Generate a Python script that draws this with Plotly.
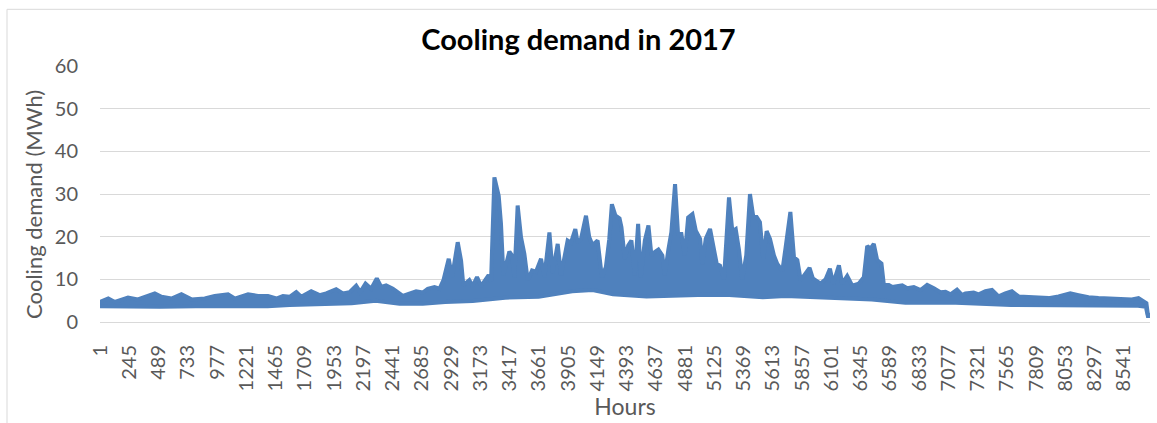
import plotly.graph_objects as go

# Upper envelope of the hourly cooling demand (daily peaks and the valleys between them)
peak_hours = [
    1, 70, 125, 235, 317, 458, 514, 597, 680, 764, 875, 958, 1069, 1125, 1236, 1319, 1402, 1472, 1527,
    1583, 1638, 1680, 1763, 1833, 1888, 1971, 2027, 2083, 2138, 2172, 2216, 2263, 2310, 2347, 2388,
    2444, 2527, 2583, 2638, 2694, 2735, 2791, 2833, 2866,
    2910, 2938, 2985, 3013, 3032, 3082, 3110, 3146, 3180, 3243, 3263, 3291, 3327, 3346, 3366, 3416,
    3438, 3458, 3485, 3513, 3541, 3569, 3605, 3638, 3680, 3708, 3750, 3777, 3819, 3847, 3902, 3930,
    3966, 3985, 4013, 4055, 4082, 4110, 4152, 4188, 4221, 4249, 4271, 4300, 4335, 4351, 4379, 4407,
    4434, 4462, 4490, 4512, 4546, 4576, 4601, 4629, 4659, 4692, 4712, 4742, 4767, 4798, 4823, 4851,
    4879, 4907, 4943, 4971, 5007, 5026, 5054, 5090, 5118, 5146, 5173, 5206, 5248, 5276, 5304, 5331,
    5359, 5392, 5423, 5451, 5479, 5506, 5534, 5562, 5590, 5623, 5651, 5693, 5720, 5760, 5790, 5818,
    5846, 5873, 5920, 5948, 6012, 6054, 6090, 6117, 6165, 6192, 6234, 6276, 6331, 6373, 6401, 6429,
    6456, 6484, 6520, 6540, 6581, 6610, 6637, 6693, 6735, 6790, 6846, 6901, 6957, 7012, 7054, 7096,
    7150, 7193, 7220, 7289, 7331, 7387, 7442, 7497, 7553, 7608, 7664, 7747, 7830, 7914, 7997, 8095,
    8164, 8247, 8330, 8441, 8525, 8608, 8664, 8705, 8730, 8742, 8760,
]
peak_demand = [
    4.7, 5.5, 4.7, 5.7, 5.3, 6.7, 5.9, 5.5, 6.5, 5.3, 5.5, 6.1, 6.5, 5.5, 6.5, 6.1, 6.1, 5.5, 6.1,
    5.9, 7.0, 5.9, 7.2, 6.3, 6.7, 7.7, 6.7, 7.0, 8.5, 7.0, 9.0, 7.8, 10.2, 8.2, 8.6,
    7.8, 6.1, 6.7, 7.2, 6.9, 7.8, 8.2, 7.8, 9.8,
    14.8, 10.5, 18.7, 14.4, 8.6, 9.8, 8.4, 10.5, 8.4, 11.0, 9.5, 33.9, 29.6, 23.0, 11.0, 16.5,
    15.6, 10.5, 27.3, 19.9, 16.0, 9.8, 12.1, 11.8, 14.8, 10.5, 21.0, 11.5, 18.3, 11.0, 19.1, 18.6,
    21.8, 18.6, 19.4, 24.9, 19.9, 18.0, 19.1, 10.5, 12.9, 19.4, 27.6, 25.0, 24.3, 22.2, 14.8, 17.9,
    19.1, 11.0, 23.0, 10.5, 19.1, 22.6, 15.6, 16.4, 17.0, 15.6, 11.0, 16.9, 21.0, 32.3, 20.6, 20.6,
    15.6, 24.5, 25.3, 21.4, 19.5, 13.6, 19.5, 21.8, 17.4, 13.6, 13.2, 10.0, 29.2, 21.3, 21.8, 17.0,
    10.0, 15.6, 30.0, 24.6, 24.6, 23.4, 14.8, 21.3, 19.5, 15.6, 13.6, 12.0, 17.4, 25.8, 15.2, 14.5,
    9.8, 11.0, 12.7, 10.2, 9.0, 10.0, 12.5, 9.0, 13.3, 9.0, 10.8, 8.5, 9.0, 10.5, 17.8, 17.2,
    18.3, 14.5, 13.7, 8.7, 8.7, 8.2, 8.3, 8.6, 7.9, 8.2, 7.5, 8.7, 7.9, 7.0, 7.1, 6.5,
    7.6, 6.3, 6.7, 6.9, 6.5, 7.2, 7.5, 6.0, 6.7, 7.2, 6.0, 5.8, 5.8, 5.6, 6.0, 6.7,
    6.3, 5.8, 5.6, 5.5, 5.3, 5.3, 5.6, 4.9, 4.4, 1.8, 1.6,
]

# Lower envelope of the hourly cooling demand (daily minima)
base_hours = [
    1, 250, 500, 800, 1100, 1400, 1583, 1860, 2100, 2300, 2500, 2694, 2880, 3110, 3380, 3660,
    3940, 4110, 4280, 4560, 4840, 5060, 5250, 5530, 5720, 6000, 6160, 6440, 6720, 7140, 7600,
    8000, 8440, 8660, 8725, 8742, 8760,
]
base_demand = [
    3.7, 3.6, 3.6, 3.7, 3.6, 3.7, 4.0, 4.1, 4.4, 5.0, 4.3, 4.3, 4.7, 4.9, 5.7, 5.9,
    7.2, 7.5, 6.5, 6.0, 6.2, 6.4, 6.3, 5.8, 6.1, 5.7, 5.7, 5.3, 4.5, 4.5, 4.0,
    4.0, 4.0, 3.8, 3.6, 1.4, 1.4,
]

hour_ticks = [
    1, 245, 489, 733, 977, 1221, 1465, 1709, 1953, 2197, 2441, 2685, 2929, 3173, 3417, 3661,
    3905, 4149, 4393, 4637, 4881, 5125, 5369, 5613, 5857, 6101, 6345, 6589, 6833, 7077, 7321,
    7565, 7809, 8053, 8297, 8541,
]
demand_ticks = [0, 10, 20, 30, 40, 50, 60]

BLUE = "#4F81BD"
GRID = "#D9D9D9"
TEXT = "#595959"
FONT = "Lato"

W, H = 1157, 423
L, R, T, B = 100, 7, 66, 101

fig = go.Figure()
fig.add_trace(go.Scatter(
    x=base_hours, y=base_demand, mode="lines",
    line=dict(color=BLUE, width=4, shape="linear"),
    hoverinfo="skip", showlegend=False,
))
fig.add_trace(go.Scatter(
    x=peak_hours, y=peak_demand, mode="lines",
    line=dict(color=BLUE, width=4, shape="linear"),
    fill="tonexty", fillcolor=BLUE,
    name="Cooling demand", showlegend=False,
))

# outer chart-area frame
pw, ph = W - L - R, H - T - B
fig.add_shape(
    type="rect", xref="paper", yref="paper",
    x0=(7 - L) / pw, x1=1.2, y0=-0.6, y1=(H - B - 9.3) / ph,
    line=dict(color=GRID, width=1), fillcolor="rgba(0,0,0,0)", layer="below",
)

# vertical axis title, placed in page pixels
fig.add_annotation(
    text="Cooling demand (MWh)", textangle=-90,
    xref="paper", yref="paper",
    x=(33 - L) / pw, y=(H - B - 205) / ph,
    xanchor="center", yanchor="middle", showarrow=False,
    font=dict(family=FONT, size=22, color=TEXT),
)

fig.update_layout(
    width=W, height=H,
    margin=dict(l=L, r=R, t=T, b=B, pad=0),
    paper_bgcolor="white", plot_bgcolor="white",
    font=dict(family=FONT, color=TEXT),
    title=dict(
        text="<b>Cooling demand in 2017</b>",
        font=dict(family=FONT, size=29, color="#000000"),
        x=0.5, xref="container", xanchor="center",
        y=1 - 40 / H, yref="container", yanchor="middle",
    ),
    xaxis=dict(
        range=[1, 8760], tickmode="array", tickvals=hour_ticks,
        ticktext=[str(v) for v in hour_ticks], tickangle=-90,
        tickfont=dict(family=FONT, size=20, color=TEXT),
        ticks="", showgrid=False, zeroline=False,
        showline=True, linecolor=GRID, linewidth=1,
        ticklabelstandoff=14,
        title=dict(text="Hours", font=dict(family=FONT, size=23, color=TEXT), standoff=8),
    ),
    yaxis=dict(
        range=[0, 60], tickmode="array", tickvals=demand_ticks,
        tickfont=dict(family=FONT, size=20, color=TEXT),
        ticks="", showgrid=True, gridcolor=GRID, gridwidth=1, zeroline=False,
        ticklabelstandoff=21,
    ),
)

fig.write_html("out.html")
